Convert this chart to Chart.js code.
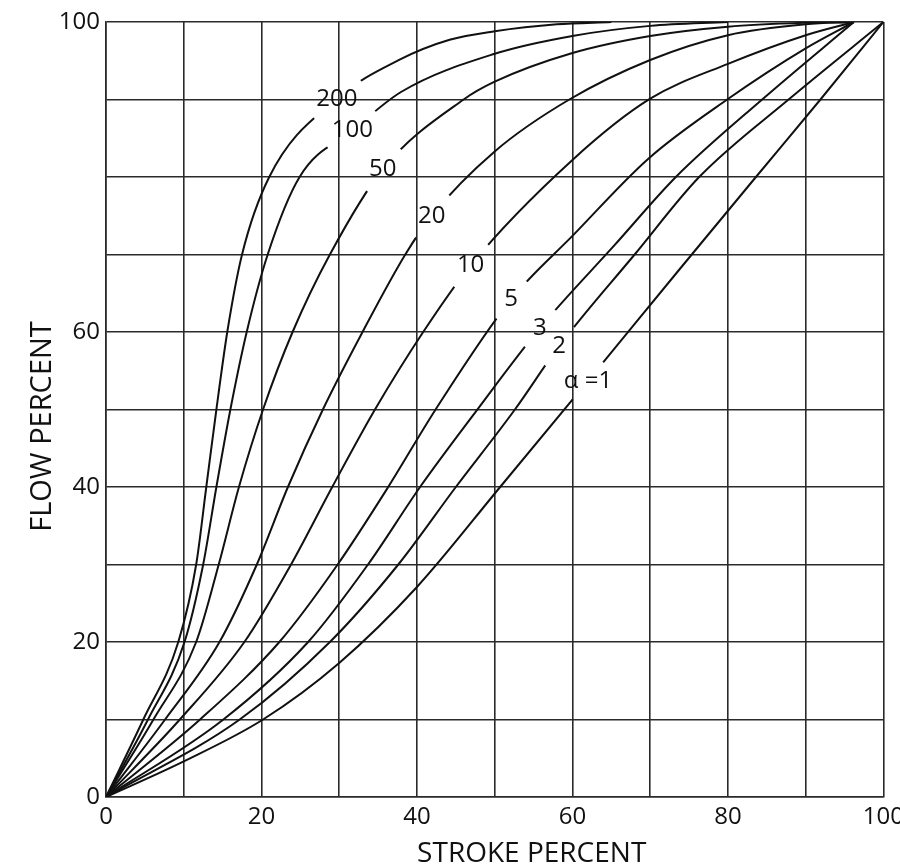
<!DOCTYPE html>
<html>
<head>
<meta charset="utf-8">
<script src="https://cdn.jsdelivr.net/npm/chart.js@4/dist/chart.umd.min.js"></script>
<style>
  html, body { margin: 0; padding: 0; background: #fff; overflow: hidden; }
  canvas { display: block; }
</style>
</head>
<body>
<canvas id="grafico" width="910" height="868"></canvas>
<script>
// Tick labels shown on the axes (80 is missing on the flow axis in the original)
const xLabels = [0, 20, 40, 60, 80, 100];
const yLabels = [0, 20, 40, 60, 100];

// Curve names (alpha values), one per curve
const alphas = ["200", "100", "50", "20", "10", "5", "3", "2", "α =1"];

// [stroke %, flow %]
const curve200 = [[0,0],[4.8,10],[9.3,20],[11.6,30],[12.9,40],[14.2,50],[15.6,60],[17.5,70],[21,80],[29.7,90.1],[37.7,95.1],[44.2,97.7],[50,98.8],[58,99.7],[65,100]];
const curve100 = [[0,0],[5.4,10],[10.1,20],[12.5,30],[14.2,40],[16,50],[18.1,60],[20.8,70],[24.9,80],[31.7,86],[38,91],[50,95.9],[60,98.2],[70,99.5],[80,100]];
const curve50  = [[0,0],[6.1,10],[11.6,20],[14.5,30],[17.1,40],[20.2,50],[24,60],[28.8,70],[35.6,81],[46,90],[50,92.3],[60,96],[70,98.2],[80,99.4],[90,99.9],[96.2,100]];
const curve20  = [[0,0],[7.6,10],[14.6,20],[19.4,30],[23.4,40],[27.9,50],[33,60],[38.5,70],[41.9,75],[50,83.3],[59.6,90],[70,95.1],[80,98.3],[90,99.7],[96.2,100]];
const curve10  = [[0,0],[9.5,10],[17.8,20],[23.8,30],[29.1,40],[34.6,50],[40.8,60],[46.9,68.6],[60,82.2],[70,90.1],[80,94.6],[90,98.3],[96.2,100]];
const curve5   = [[0,0],[12.1,10],[22.3,20],[29.8,30],[36.3,40],[42.4,50],[52.1,64.2],[60,72.4],[69.8,82.4],[79.9,90],[90,96.6],[96.2,100]];
const curve3   = [[0,0],[15.1,10],[26,20],[33.7,30],[40.4,40],[47.4,49.5],[55.8,60.5],[65.5,71.3],[73.3,80],[84.4,90],[96.2,100]];
const curve2   = [[0,0],[17.2,10],[28.8,20],[37.6,30],[45,40],[52.6,50],[58.3,58.2],[68,70],[76.3,80],[87.8,90],[100,100]];
const curve1   = [[0,0],[10,4.6],[20.2,10],[30,17.3],[40,27.1],[50.7,40],[62,53.7],[73.7,68],[83.6,80],[91.9,90],[100,100]];

const curves = [curve200, curve100, curve50, curve20, curve10, curve5, curve3, curve2, curve1];
// index of the point (in each curve) where the alpha label sits in a gap
const labelIndex = [9, 9, 8, 8, 7, 6, 6, 6, 6];

const FONT = '"Open Sans", "Noto Sans", sans-serif';
const INK = "#111";
const GRID = "#2a2a2a";

// Cuts a gap in each curve around its own label, then writes the label
const rotulos = {
  id: "rotulos",
  gapRadius(ctx, i) {
    ctx.save();
    ctx.font = "24px " + FONT;
    const w = ctx.measureText(alphas[i].replace("α =", "")).width;
    ctx.restore();
    return 21 + w * 0.22;
  },
  beforeDatasetDraw(chart, args) {
    const i = args.index;
    const ctx = chart.ctx;
    const p = args.meta.data[labelIndex[i]];
    const r = this.gapRadius(ctx, i);
    ctx.save();
    ctx.beginPath();
    ctx.rect(0, 0, chart.width, chart.height);
    ctx.moveTo(p.x + r, p.y);
    ctx.arc(p.x, p.y, r, 0, Math.PI * 2);
    ctx.clip("evenodd");
  },
  afterDatasetDraw(chart) {
    chart.ctx.restore();
  },
  afterDatasetsDraw(chart) {
    const ctx = chart.ctx;
    ctx.save();
    ctx.font = "24px " + FONT;
    ctx.fillStyle = INK;
    ctx.textAlign = "center";
    ctx.textBaseline = "middle";
    alphas.forEach((txt, i) => {
      const p = chart.getDatasetMeta(i).data[labelIndex[i]];
      ctx.fillText(txt, p.x, p.y);
    });
    ctx.restore();
  }
};

// Axis titles (placed like in the original, a bit off the plot centre)
const titulos = {
  id: "titulos",
  afterDraw(chart) {
    const ctx = chart.ctx;
    const a = chart.chartArea;
    ctx.save();
    ctx.font = "28px " + FONT;
    ctx.fillStyle = INK;
    ctx.textAlign = "center";
    ctx.textBaseline = "alphabetic";
    ctx.fillText("STROKE PERCENT", (a.left + a.right) / 2 + 37, 862);
    ctx.font = "29px " + FONT;
    ctx.translate(51, (a.top + a.bottom) / 2 + 17);
    ctx.rotate(-Math.PI / 2);
    ctx.fillText("FLOW PERCENT", 0, 0);
    ctx.restore();
  }
};

new Chart(document.getElementById("grafico"), {
  type: "scatter",
  data: {
    datasets: curves.map((c, i) => ({
      label: alphas[i],
      data: c.map(([x, y]) => ({ x, y })),
      showLine: true,
      borderColor: INK,
      borderWidth: 2,
      pointRadius: 0,
      cubicInterpolationMode: "monotone",
      fill: false
    }))
  },
  options: {
    responsive: false,
    animation: false,
    layout: { padding: { left: 0, top: 22, right: 25, bottom: 0 } },
    plugins: { legend: { display: false }, tooltip: { enabled: false } },
    scales: {
      x: {
        type: "linear", min: 0, max: 100,
        afterFit: (s) => { s.height = 71; },
        grid: { color: GRID, lineWidth: 1.6, drawTicks: false },
        border: { color: GRID, width: 1.6 },
        ticks: {
          stepSize: 10, padding: 6, color: INK, maxRotation: 0, autoSkip: false,
          font: { family: FONT, size: 24 },
          callback: (v) => xLabels.includes(v) ? String(v) : ""
        }
      },
      y: {
        type: "linear", min: 0, max: 100,
        afterFit: (s) => { s.width = 106; },
        grid: { color: GRID, lineWidth: 1.6, drawTicks: false },
        border: { color: GRID, width: 1.6 },
        ticks: {
          stepSize: 10, padding: 6, color: INK, autoSkip: false,
          font: { family: FONT, size: 24 },
          callback: (v) => yLabels.includes(v) ? String(v) : ""
        }
      }
    }
  },
  plugins: [rotulos, titulos]
});
</script>
</body>
</html>
